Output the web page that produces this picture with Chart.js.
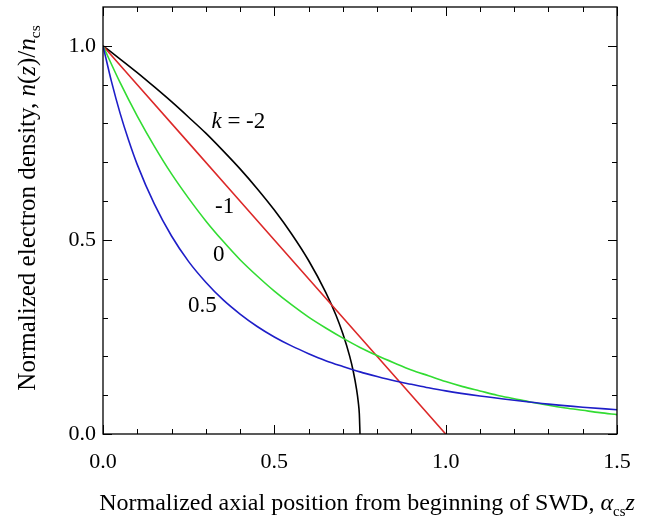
<!DOCTYPE html>
<html>
<head>
<meta charset="utf-8">
<script src="https://cdn.jsdelivr.net/npm/chart.js@4.4.0/dist/chart.umd.min.js"></script>
<style>
  html, body { margin: 0; padding: 0; background: #fff; }
</style>
</head>
<body>
<canvas id="grafica" width="659" height="519"></canvas>
<script>
// valores
const posX = [0, 0.05, 0.1, 0.15, 0.2, 0.25, 0.3, 0.35, 0.4, 0.45, 0.5, 0.55, 0.6, 0.65, 0.7, 0.75,
  0.8, 0.85, 0.9, 0.95, 1.0, 1.05, 1.1, 1.15, 1.2, 1.25, 1.3, 1.35, 1.4, 1.45, 1.5];

// k = -2 (negra), termina en 0.75
const posXk2 = [0, 0.05, 0.1, 0.15, 0.2, 0.25, 0.3, 0.35, 0.4, 0.45, 0.5, 0.55, 0.6, 0.65, 0.68,
  0.7, 0.72, 0.73, 0.74, 0.745, 0.748, 0.75];
const densK2 = [1, 0.966, 0.931, 0.894, 0.856, 0.816, 0.775, 0.730, 0.683, 0.632, 0.577, 0.516,
  0.447, 0.365, 0.306, 0.258, 0.200, 0.163, 0.115, 0.082, 0.052, 0];

// k = -1 (roja)
const posXk1 = [0, 0.25, 0.5, 0.75, 1.0];
const densK1 = [1, 0.75, 0.5, 0.25, 0];

// k = 0 (verde)
const densK0 = [1, 0.905, 0.819, 0.741, 0.670, 0.607, 0.549, 0.497, 0.449, 0.407, 0.368, 0.333,
  0.301, 0.273, 0.247, 0.223, 0.202, 0.183, 0.165, 0.150, 0.135, 0.122, 0.111, 0.100, 0.091,
  0.082, 0.074, 0.067, 0.061, 0.055, 0.050];

// k = 0.5 (azul)
const posXk05 = [0, 0.025, 0.05, 0.075, 0.1, 0.15, 0.2, 0.25, 0.3, 0.35, 0.4, 0.45, 0.5, 0.55, 0.6,
  0.65, 0.7, 0.75, 0.8, 0.85, 0.9, 0.95, 1.0, 1.1, 1.2, 1.3, 1.4, 1.5];
const densK05 = [1, 0.907, 0.826, 0.756, 0.694, 0.592, 0.510, 0.444, 0.391, 0.346, 0.309, 0.277,
  0.250, 0.227, 0.207, 0.189, 0.174, 0.160, 0.148, 0.137, 0.128, 0.119, 0.111, 0.098, 0.087,
  0.077, 0.069, 0.0625];

const ticksX = [0, 0.5, 1.0, 1.5];
const ticksY = [0, 0.5, 1.0];

// etiquetas de las curvas: texto y posicion en unidades de datos
const etiquetas = [
  { partes: [{ t: "k", it: true }, { t: " = -2" }], x: 0.395, y: 0.805 },
  { partes: [{ t: "-1" }], x: 0.355, y: 0.585 },
  { partes: [{ t: "0" }], x: 0.338, y: 0.460 },
  { partes: [{ t: "0.5" }], x: 0.29, y: 0.33 },
];

const FUENTE = "'Liberation Serif', 'Times New Roman', serif";

function puntos(xs, ys) {
  return xs.map((x, i) => ({ x: x, y: ys[i] }));
}

// dibuja texto con partes en cursiva y subindices, centrado en (0,0)
function textoCompuesto(ctx, partes, size) {
  let ancho = 0;
  const medidas = partes.map((p) => {
    const s = p.sub ? size * 0.62 : size;
    ctx.font = (p.it ? "italic " : "") + s + "px " + FUENTE;
    const w = ctx.measureText(p.t).width;
    ancho += w;
    return { s: s, w: w };
  });
  let x = -ancho / 2;
  ctx.textBaseline = "middle";
  ctx.textAlign = "left";
  partes.forEach((p, i) => {
    ctx.font = (p.it ? "italic " : "") + medidas[i].s + "px " + FUENTE;
    ctx.fillText(p.t, x, p.sub ? size * 0.32 : 0);
    x += medidas[i].w;
  });
}

const marco = {
  id: "marco",
  afterDraw(chart) {
    const ctx = chart.ctx;
    const a = chart.chartArea;
    const sx = chart.scales.x;
    const sy = chart.scales.y;
    ctx.save();
    ctx.strokeStyle = "#000";
    ctx.lineWidth = 1.3;
    ctx.strokeRect(a.left, a.top, a.right - a.left, a.bottom - a.top);

    // marcas hacia dentro
    ctx.lineWidth = 1;
    ctx.beginPath();
    for (let i = 0; i <= 15; i++) {
      const px = Math.round(sx.getPixelForValue(i / 10)) + 0.5;
      const len = i % 5 === 0 ? 9 : 5;
      ctx.moveTo(px, a.bottom);
      ctx.lineTo(px, a.bottom - len);
      ctx.moveTo(px, a.top);
      ctx.lineTo(px, a.top + len);
    }
    for (let i = 0; i <= 10; i++) {
      const py = Math.round(sy.getPixelForValue(i / 10)) + 0.5;
      const len = i % 5 === 0 ? 9 : 5;
      ctx.moveTo(a.left, py);
      ctx.lineTo(a.left + len, py);
      ctx.moveTo(a.right, py);
      ctx.lineTo(a.right - len, py);
    }
    ctx.stroke();

    ctx.fillStyle = "#000";
    // etiquetas k
    etiquetas.forEach((e) => {
      ctx.save();
      ctx.translate(sx.getPixelForValue(e.x), sy.getPixelForValue(e.y));
      textoCompuesto(ctx, e.partes, 23);
      ctx.restore();
    });

    // titulo eje x
    ctx.save();
    ctx.translate(367, 504);
    textoCompuesto(ctx, [
      { t: "Normalized axial position from beginning of SWD, " },
      { t: "\u03b1", it: true },
      { t: "cs", sub: true },
      { t: "z", it: true },
    ], 24);
    ctx.restore();

    // titulo eje y
    ctx.save();
    ctx.translate(28, 208);
    ctx.rotate(-Math.PI / 2);
    textoCompuesto(ctx, [
      { t: "Normalized electron density, " },
      { t: "n", it: true },
      { t: "(" },
      { t: "z", it: true },
      { t: ")/" },
      { t: "n", it: true },
      { t: "cs", sub: true },
    ], 25);
    ctx.restore();
    ctx.restore();
  },
};

function serie(datos, color) {
  return {
    data: datos,
    borderColor: color,
    borderWidth: 1.6,
    pointRadius: 0,
    fill: false,
    cubicInterpolationMode: "monotone",
  };
}

let ctx = document.getElementById("grafica").getContext("2d");
let grafica = new Chart(ctx, {
  type: "line",
  data: {
    datasets: [
      serie(puntos(posXk05, densK05), "rgb(30, 30, 200)"),
      serie(puntos(posX, densK0), "rgb(50, 220, 50)"),
      serie(puntos(posXk1, densK1), "rgb(220, 40, 40)"),
      serie(puntos(posXk2, densK2), "rgb(0, 0, 0)"),
    ],
  },
  options: {
    responsive: false,
    animation: false,
    layout: { padding: { left: 0, right: 42, top: 7, bottom: 0 } },
    plugins: { legend: { display: false }, tooltip: { enabled: false } },
    scales: {
      x: {
        type: "linear",
        min: 0,
        max: 1.5,
        grid: { display: false, drawTicks: false },
        border: { display: false },
        afterBuildTicks: (s) => { s.ticks = ticksX.map((v) => ({ value: v })); },
        afterFit: (s) => { s.height = 85; s.paddingLeft = 0; s.paddingRight = 0; },
        ticks: {
          color: "#000",
          padding: 15,
          maxRotation: 0,
          font: { family: FUENTE, size: 22 },
          callback: (v) => Number(v).toFixed(1),
        },
      },
      y: {
        min: 0,
        max: 1.1,
        grid: { display: false, drawTicks: false },
        border: { display: false },
        afterBuildTicks: (s) => { s.ticks = ticksY.map((v) => ({ value: v })); },
        afterFit: (s) => { s.width = 103; s.paddingTop = 0; s.paddingBottom = 0; },
        ticks: {
          color: "#000",
          padding: 7,
          font: { family: FUENTE, size: 22 },
          callback: (v) => Number(v).toFixed(1),
        },
      },
    },
  },
  plugins: [marco],
});
</script>
</body>
</html>
